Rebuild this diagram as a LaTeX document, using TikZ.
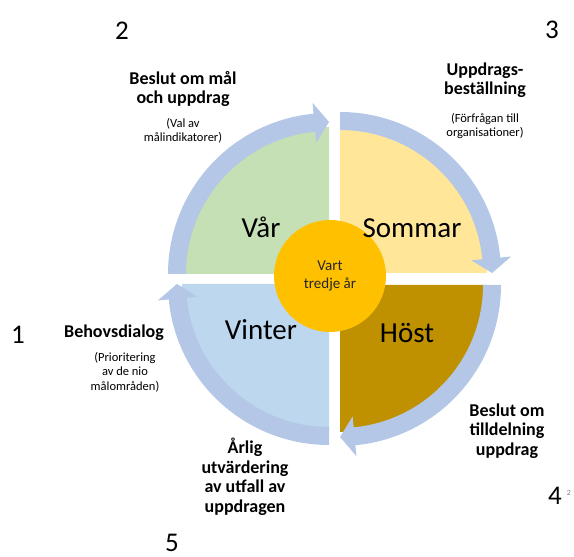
\documentclass[tikz,border=0pt]{standalone}
\usepackage{fontspec}
\setmainfont{Carlito}
\usetikzlibrary{calc}
\definecolor{ringblue}{HTML}{B4C7E7}
\definecolor{qgreen}{HTML}{C5E0B4}
\definecolor{qyellow}{HTML}{FFE699}
\definecolor{qbrown}{HTML}{BF9000}
\definecolor{qblue}{HTML}{BDD7EE}
\definecolor{qorange}{HTML}{FFC000}
\tikzset{
  headtext/.style={font=\bfseries\fontsize{18}{19.5}\selectfont, align=center, inner sep=0pt},
  subtext/.style={font=\fontsize{12.5}{14.5}\selectfont, align=center, inner sep=0pt},
  numtext/.style={font=\fontsize{27}{30}\selectfont, inner sep=0pt},
  seasontext/.style={font=\fontsize{29}{32}\selectfont, inner sep=0pt},
}
\newcommand\ringarrow[2]{%
  \fill[ringblue] ($(#1)+(#2:161pt)$) arc[start angle=#2, end angle={#2-84.5}, radius=161pt]
    -- ($(#1)+({#2-84.5}:172pt)$) -- ($(#1)+({#2-90}:152pt)$)
    -- ($(#1)+({#2-84.5}:132pt)$) -- ($(#1)+({#2-84.5}:143pt)$)
    arc[start angle={#2-84.5}, end angle=#2, radius=143pt] -- cycle;}
\begin{document}
\begin{tikzpicture}[x=1pt,y=1pt]
\useasboundingbox (0,0) rectangle (574,557);
\coordinate (G) at (329,283);
\coordinate (Y) at (340,284);
\coordinate (H) at (340,272);
\coordinate (V) at (329,273);
\fill[qgreen] (G) -- ++(180:147pt) arc[start angle=180,end angle=90,radius=147pt] -- cycle;
\fill[qyellow] (Y) -- ++(90:147pt) arc[start angle=90,end angle=0,radius=147pt] -- cycle;
\fill[qbrown] (H) -- ++(0:147pt) arc[start angle=0,end angle=-90,radius=147pt] -- cycle;
\fill[qblue] (V) -- ++(-90:147pt) arc[start angle=-90,end angle=-180,radius=147pt] -- cycle;
\ringarrow{G}{180}
\ringarrow{Y}{90}
\ringarrow{H}{0}
\ringarrow{V}{-90}
\node[circle, fill=qorange, minimum size=112pt, inner sep=0pt, align=center,
  text=black!85, font=\fontsize{15}{18}\selectfont] (mid) at (330,281) {Vart\\tredje år};
\node[seasontext] (var) at (261,330) {Vår};
\node[seasontext] (sommar) at (412,329) {Sommar};
\node[seasontext] (vinter) at (261,227) {Vinter};
\node[seasontext] (host) at (407,224) {Höst};
\node[headtext] (h2) at (183,468) {Beslut om mål\\och uppdrag};
\node[subtext] (s2) at (183,426) {(Val av\\målindikatorer)};
\node[headtext] (h3) at (485,477) {Uppdrags-\\beställning};
\node[subtext] (s3) at (485,431) {(Förfrågan till\\organisationer)};
\node[headtext] (h1) at (114,224) {Behovsdialog};
\node[subtext] (s1) at (125,185) {(Prioritering\\av de nio\\målområden)};
\node[headtext] (h5) at (245,80) {Årlig\\utvärdering\\av utfall av\\uppdragen};
\node[headtext] (h4) at (507,126) {Beslut om\\tilldelning\\uppdrag};
\node[numtext] (n2) at (122,526) {2};
\node[numtext] (n3) at (552,527) {3};
\node[numtext] (n1) at (18,222) {1};
\node[numtext] (n4) at (555,61) {4};
\node[numtext] (n5) at (172,14) {5};
\node[font=\fontsize{8}{9}\selectfont, text=gray, inner sep=0pt] (pg) at (569,64) {2};
\end{tikzpicture}
\end{document}
